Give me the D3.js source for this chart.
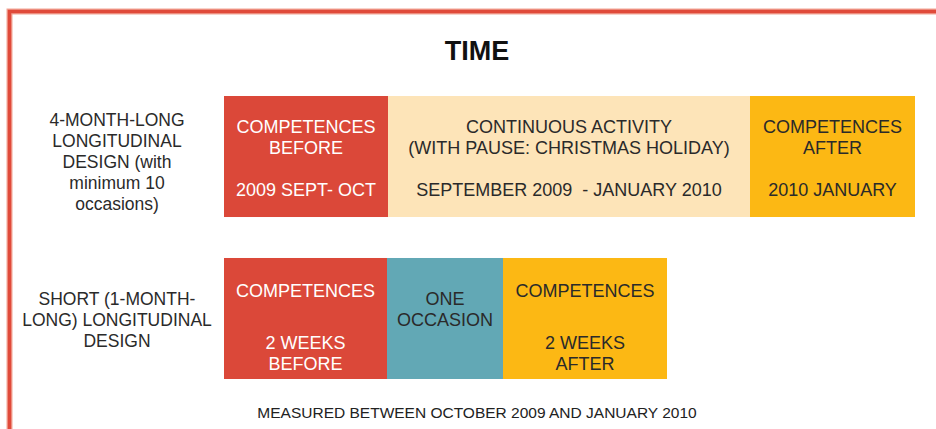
<!DOCTYPE html>
<html>
<head>
<meta charset="utf-8">
<script src="https://cdn.jsdelivr.net/npm/d3@7"></script>
<style>
  html, body { margin: 0; padding: 0; background: #fff; }
  text { font-family: "Liberation Sans", Arial, sans-serif; white-space: pre; }
</style>
</head>
<body>
<svg id="chart" width="936" height="429"></svg>
<script>
// designs (rows) and what each one contains
const rows = ['long', 'short'];

const rowLabels = [
  ['4-MONTH-LONG', 'LONGITUDINAL', 'DESIGN (with', 'minimum 10', 'occasions)'],
  ['SHORT (1-MONTH-', 'LONG) LONGITUDINAL', 'DESIGN']
];

// start/end on a relative time axis (units), kind decides the colour
const segments = [
  { row: 'long', start: 0, end: 164, kind: 'before', lines: ['COMPETENCES', 'BEFORE', '', '2009 SEPT- OCT'] },
  { row: 'long', start: 164, end: 526, kind: 'activity', lines: ['CONTINUOUS ACTIVITY', '(WITH PAUSE: CHRISTMAS HOLIDAY)', '', 'SEPTEMBER 2009  - JANUARY 2010'] },
  { row: 'long', start: 526, end: 691, kind: 'after', lines: ['COMPETENCES', 'AFTER', '', '2010 JANUARY'] },
  { row: 'short', start: 0, end: 163, kind: 'before', lines: ['COMPETENCES', '', '2 WEEKS', 'BEFORE'] },
  { row: 'short', start: 163, end: 279, kind: 'occasion', lines: ['ONE', 'OCCASION'] },
  { row: 'short', start: 279, end: 443, kind: 'after', lines: ['COMPETENCES', '', '2 WEEKS', 'AFTER'] }
];

const title = 'TIME';
const footnote = 'MEASURED BETWEEN OCTOBER 2009 AND JANUARY 2010';

const fill = { before: '#db4839', activity: '#fde4b8', after: '#fcb814', occasion: '#62a8b5' };
const ink = { before: '#ffffff', activity: '#2a2a2a', after: '#2a2a2a', occasion: '#2a2a2a' };

const svg = d3.select('#chart');

const x = d3.scaleLinear().domain([0, 691]).range([224, 915]);
const y = d3.scaleBand().domain(rows).range([96, 379]).paddingInner(0.253);

const lineH = 21;
// first baseline offset from box top, and height of a blank line, per row
const rowText = { long: { top: 37, blank: 21 }, short: { top: 39, blank: 31 } };

// outer red frame (runs off the right and bottom edge)
svg.append('rect')
  .attr('x', 9.5).attr('y', 11.5)
  .attr('width', 1000).attr('height', 500)
  .attr('fill', 'none')
  .attr('stroke', '#f2a596')
  .attr('stroke-width', 6);
svg.append('rect')
  .attr('x', 9.5).attr('y', 11.5)
  .attr('width', 1000).attr('height', 500)
  .attr('fill', 'none')
  .attr('stroke', '#e04a3a')
  .attr('stroke-width', 3.5);

svg.append('text')
  .attr('x', 477).attr('y', 60)
  .attr('text-anchor', 'middle')
  .attr('font-size', 27)
  .attr('font-weight', 'bold')
  .attr('fill', '#111')
  .text(title);

// boxes
svg.append('g')
  .selectAll('rect')
  .data(segments)
  .join('rect')
  .attr('x', d => x(d.start))
  .attr('y', d => y(d.row))
  .attr('width', d => x(d.end) - x(d.start))
  .attr('height', y.bandwidth())
  .attr('fill', d => fill[d.kind]);

// box texts
function lineOffsets(d) {
  const r = rowText[d.row];
  let off = d.kind == 'occasion' ? r.top + 8 : r.top;
  return d.lines.map(l => {
    const o = off;
    off += l == '' ? r.blank : lineH;
    return o;
  });
}

svg.append('g')
  .selectAll('text')
  .data(segments)
  .join('text')
  .attr('text-anchor', 'middle')
  .attr('font-size', 18)
  .attr('fill', d => ink[d.kind])
  .each(function(d) {
    const offs = lineOffsets(d);
    const cx = (x(d.start) + x(d.end)) / 2;
    d3.select(this).selectAll('tspan')
      .data(d.lines.map((l, i) => ({ l: l, o: offs[i] })).filter(t => t.l != ''))
      .join('tspan')
      .attr('x', cx)
      .attr('y', t => y(d.row) + t.o)
      .text(t => t.l);
  });

// row labels
const labelTop = { long: 30, short: 47 };
svg.append('g')
  .selectAll('text')
  .data(rows)
  .join('text')
  .attr('text-anchor', 'middle')
  .attr('font-size', 17.5)
  .attr('fill', '#2a2a2a')
  .each(function(r, i) {
    d3.select(this).selectAll('tspan')
      .data(rowLabels[i])
      .join('tspan')
      .attr('x', 117)
      .attr('y', (l, j) => y(r) + labelTop[r] + j * lineH)
      .text(l => l);
  });

svg.append('text')
  .attr('x', 477).attr('y', 418)
  .attr('text-anchor', 'middle')
  .attr('font-size', 15.5)
  .attr('fill', '#222')
  .text(footnote);
</script>
</body>
</html>
